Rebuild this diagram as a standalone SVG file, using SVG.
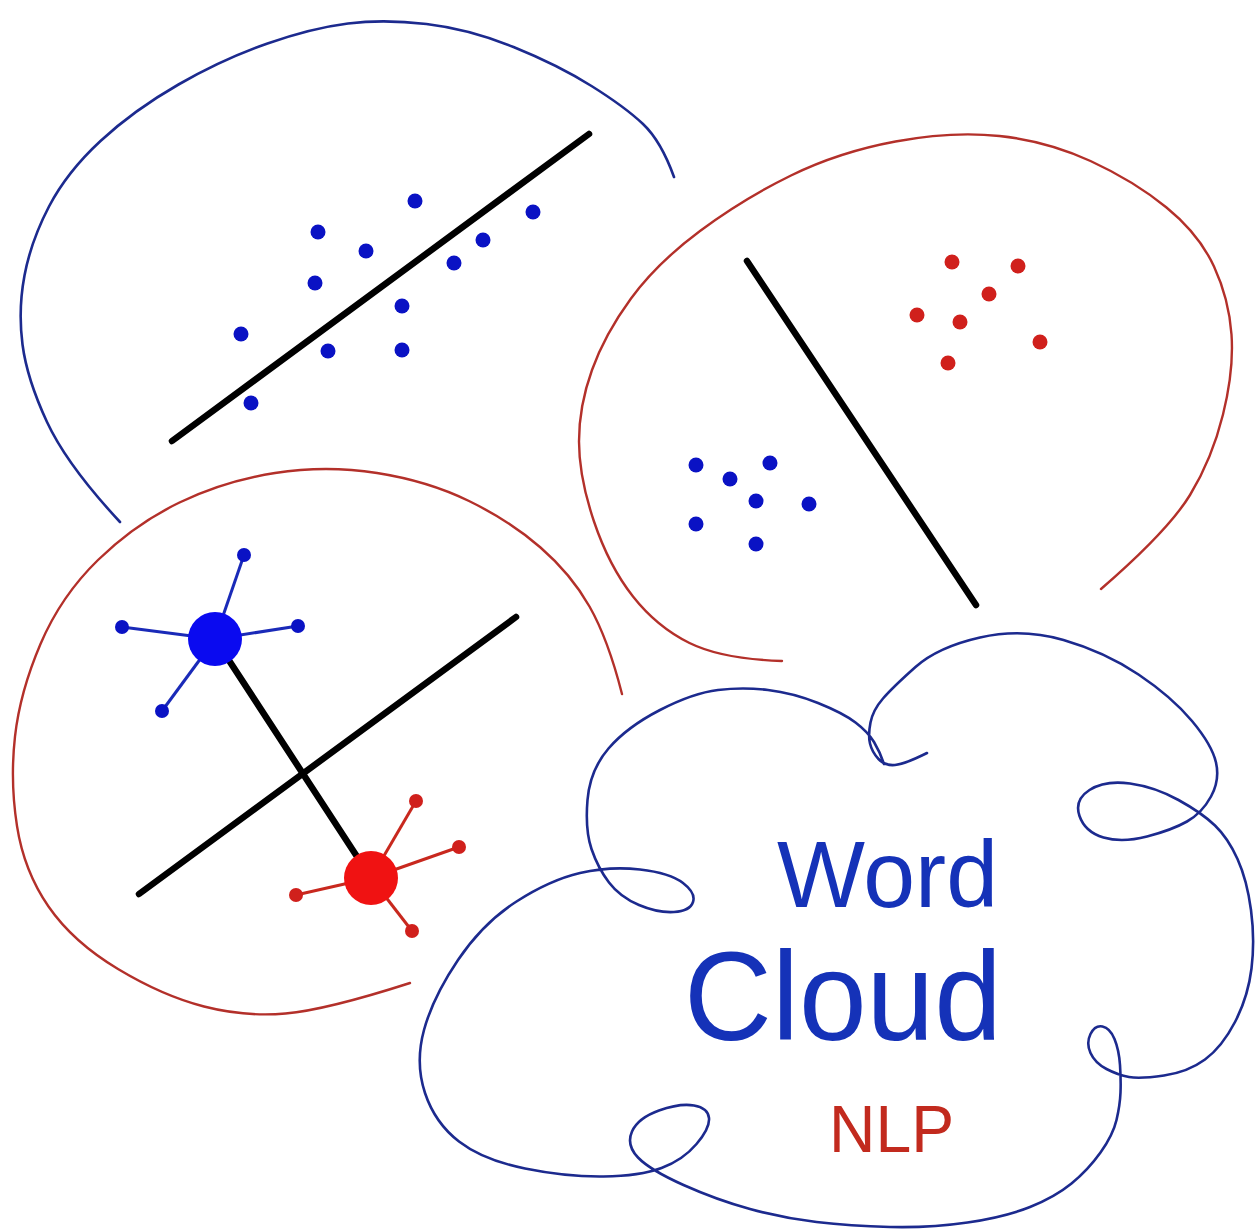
<svg xmlns="http://www.w3.org/2000/svg" width="1255" height="1231" viewBox="0 0 1255 1231">
  <style>
    .navy { fill: none; stroke: #1c2a8e; stroke-width: 2.6; stroke-linecap: round; stroke-linejoin: round; }
    .brick { fill: none; stroke: #b3302a; stroke-width: 2.4; stroke-linecap: round; }
    .black { stroke: #000; stroke-width: 6.5; stroke-linecap: round; }
    .bspoke { stroke: #1a2ab8; stroke-width: 3; }
    .rspoke { stroke: #c8281e; stroke-width: 3; }
    .bdot { fill: #0a12c4; }
    .rdot { fill: #d0201c; }
    .txt { font-family: "Liberation Sans", Arial, sans-serif; }
  </style>
  <rect width="1255" height="1231" fill="#ffffff"/>

  <g id="regression-panel">
    <path class="navy" d="M120,522 Q67,465 47,422 Q27,379 22.5,344.5 Q18,310 24.5,275.5 Q31,241 49,206.5 Q67,172 100.5,141 Q134,110 178.5,84.5 Q223,59 267.5,43.5 Q312,28 348,23.5 Q384,19 426.5,24 Q469,29 513.5,47 Q558,65 591.5,86 Q625,107 643,124 Q661,141 674,177"/>
    <line class="black" x1="172" y1="441" x2="589" y2="134"/>
    <g class="bdot">
      <circle cx="415" cy="201" r="7.5"/>
      <circle cx="318" cy="232" r="7.5"/>
      <circle cx="366" cy="251" r="7.5"/>
      <circle cx="533" cy="212" r="7.5"/>
      <circle cx="483" cy="240" r="7.5"/>
      <circle cx="454" cy="263" r="7.5"/>
      <circle cx="315" cy="283" r="7.5"/>
      <circle cx="402" cy="306" r="7.5"/>
      <circle cx="241" cy="334" r="7.5"/>
      <circle cx="328" cy="351" r="7.5"/>
      <circle cx="402" cy="350" r="7.5"/>
      <circle cx="251" cy="403" r="7.5"/>
    </g>
  </g>

  <g id="classification-panel">
    <path class="brick" d="M782,661 Q722,659 689.5,643 Q657,627 633,596.5 Q609,566 594,521.5 Q579,477 579,441.5 Q579,406 592,370 Q605,334 631,298.5 Q657,263 700,231 Q743,199 791,175.5 Q839,152 895.5,141.5 Q952,131 999.5,136 Q1047,141 1090.5,161 Q1134,181 1166.5,207.5 Q1199,234 1214,266.5 Q1229,299 1231.5,334.5 Q1234,370 1223,414.5 Q1212,459 1190,495 Q1168,531 1101,589"/>
    <line class="black" x1="747" y1="261" x2="976" y2="605"/>
    <g class="rdot">
      <circle cx="952" cy="262" r="7.5"/>
      <circle cx="1018" cy="266" r="7.5"/>
      <circle cx="989" cy="294" r="7.5"/>
      <circle cx="917" cy="315" r="7.5"/>
      <circle cx="960" cy="322" r="7.5"/>
      <circle cx="1040" cy="342" r="7.5"/>
      <circle cx="948" cy="363" r="7.5"/>
    </g>
    <g class="bdot">
      <circle cx="696" cy="465" r="7.5"/>
      <circle cx="770" cy="463" r="7.5"/>
      <circle cx="730" cy="479" r="7.5"/>
      <circle cx="756" cy="501" r="7.5"/>
      <circle cx="809" cy="504" r="7.5"/>
      <circle cx="696" cy="524" r="7.5"/>
      <circle cx="756" cy="544" r="7.5"/>
    </g>
  </g>

  <g id="clustering-panel">
    <path class="brick" d="M622,694 Q608,639 589.5,606.5 Q571,574 540.5,547.5 Q510,521 469,501 Q428,481 377,473 Q326,465 275,473 Q224,481 179.5,502.5 Q135,524 98,560 Q61,596 40.5,644 Q20,692 15,736.5 Q10,781 17,826 Q24,871 48.5,906.5 Q73,942 118,969 Q163,996 204,1006.5 Q245,1017 285.5,1013.5 Q326,1010 410,983"/>
    <line class="black" x1="139" y1="894" x2="516" y2="617"/>
    <line class="black" x1="215" y1="639" x2="371" y2="878"/>
    <g class="bspoke">
      <line x1="215" y1="639" x2="244" y2="555"/>
      <line x1="215" y1="639" x2="122" y2="627"/>
      <line x1="215" y1="639" x2="298" y2="626"/>
      <line x1="215" y1="639" x2="162" y2="711"/>
    </g>
    <g class="bdot">
      <circle cx="244" cy="555" r="7"/>
      <circle cx="122" cy="627" r="7"/>
      <circle cx="298" cy="626" r="7"/>
      <circle cx="162" cy="711" r="7"/>
    </g>
    <circle cx="215" cy="639" r="27" fill="#0a0af0"/>
    <g class="rspoke">
      <line x1="371" y1="878" x2="416" y2="801"/>
      <line x1="371" y1="878" x2="459" y2="847"/>
      <line x1="371" y1="878" x2="296" y2="895"/>
      <line x1="371" y1="878" x2="412" y2="931"/>
    </g>
    <g class="rdot">
      <circle cx="416" cy="801" r="7"/>
      <circle cx="459" cy="847" r="7"/>
      <circle cx="296" cy="895" r="7"/>
      <circle cx="412" cy="931" r="7"/>
    </g>
    <circle cx="371" cy="878" r="27" fill="#f01212"/>
  </g>

  <g id="word-cloud">
    <path class="navy" d="M927,753 Q905,764 895,765 Q885,766 878.5,759 Q872,752 870,743.5 Q868,735 870.5,722.5 Q873,710 883,698.5 Q893,687 915.5,667 Q938,647 980,637.5 Q1022,628 1063.5,640 Q1105,652 1138.5,674.5 Q1172,697 1192,721 Q1212,745 1216,762.5 Q1220,780 1211,796.5 Q1202,813 1187,821.5 Q1172,830 1147,836.5 Q1122,843 1103.5,837.5 Q1085,832 1079.5,816 Q1074,800 1089.5,790 Q1105,780 1130,783.5 Q1155,787 1178.5,800 Q1202,813 1215,825.5 Q1228,838 1237.5,859 Q1247,880 1251,910 Q1255,940 1251.5,968.5 Q1248,997 1235,1022 Q1222,1047 1205,1059.5 Q1188,1072 1164,1075.5 Q1140,1079 1129,1077 Q1118,1075 1106.5,1069 Q1095,1063 1090.5,1053 Q1086,1043 1090.5,1034 Q1095,1025 1102.5,1026.5 Q1110,1028 1114.5,1039 Q1119,1050 1120,1065 Q1121,1080 1120.5,1092.5 Q1120,1105 1116.5,1120 Q1113,1135 1100.5,1152.5 Q1088,1170 1071.5,1183.5 Q1055,1197 1030,1207 Q1005,1217 967.5,1222.5 Q930,1228 890,1227 Q850,1226 816.5,1222 Q783,1218 750,1209 Q717,1200 683.5,1185 Q650,1170 638,1157.5 Q626,1145 632,1131.5 Q638,1118 659,1110.5 Q680,1103 694,1105.5 Q708,1108 709,1118 Q710,1128 696.5,1144 Q683,1160 661.5,1168 Q640,1176 603.5,1176.5 Q567,1177 525,1168.5 Q483,1160 459,1141.5 Q435,1123 425,1093 Q415,1063 424,1030 Q433,997 458,960 Q483,923 516.5,901.5 Q550,880 580,873 Q610,866 640,869.5 Q670,873 683,883 Q696,893 693,902 Q690,911 674,912 Q658,913 639,905 Q620,897 609,882.5 Q598,868 591.5,849 Q585,830 587.5,800 Q590,770 608.5,748.5 Q627,727 660,710 Q693,693 718,690 Q743,687 768,690 Q793,693 818,703 Q843,713 855.5,722.5 Q868,732 874,742 Q880,752 884,764"/>
    <text class="txt" x="777" y="907" font-size="95" fill="#1532b8" textLength="221" lengthAdjust="spacingAndGlyphs">Word</text>
    <text class="txt" x="684" y="1040" font-size="126" fill="#1532b8" textLength="318" lengthAdjust="spacingAndGlyphs">Cloud</text>
    <text class="txt" x="829" y="1152" font-size="66" fill="#c22a1e" textLength="125" lengthAdjust="spacingAndGlyphs">NLP</text>
  </g>
</svg>
